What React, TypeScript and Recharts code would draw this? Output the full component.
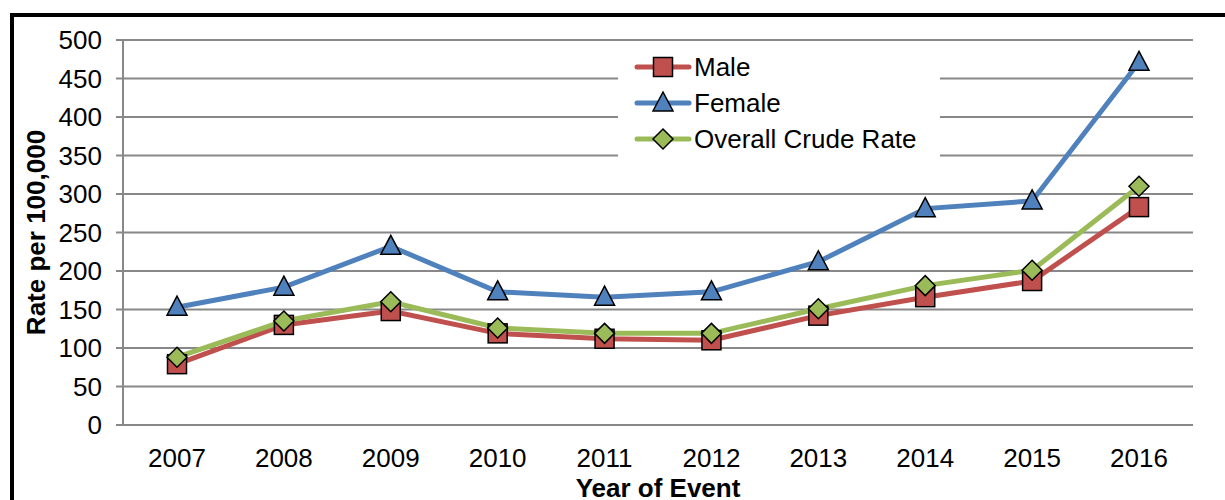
import React from 'react'
import { LineChart, Line, XAxis, YAxis, CartesianGrid } from 'recharts'

const years = ['2007', '2008', '2009', '2010', '2011', '2012', '2013', '2014', '2015', '2016']
const male = [79, 130, 148, 119, 112, 110, 142, 166, 187, 283]
const female = [153, 179, 232, 173, 166, 173, 212, 281, 291, 471]
const overall = [88, 135, 160, 126, 119, 119, 151, 181, 201, 310]
const yTicks = [0, 50, 100, 150, 200, 250, 300, 350, 400, 450, 500]

const data = years.map((year, i) => ({
    year,
    male: male[i],
    female: female[i],
    overall: overall[i],
}))

const font = '"Liberation Sans", Arial, sans-serif'

const Square = (p: any) => {
    if (p.cx == null || p.cy == null) return null
    return <rect x={p.cx - 9.5} y={p.cy - 9.5} width={19} height={19} fill="#C0504D" stroke="#000" strokeWidth={1.5} />
}
const Triangle = (p: any) => {
    if (p.cx == null || p.cy == null) return null
    const { cx, cy } = p
    return <polygon points={`${cx},${cy - 11} ${cx + 10},${cy + 8} ${cx - 10},${cy + 8}`} fill="#4F81BD" stroke="#000" strokeWidth={1.5} />
}
const Diamond = (p: any) => {
    if (p.cx == null || p.cy == null) return null
    const { cx, cy } = p
    return <polygon points={`${cx},${cy - 10} ${cx + 10},${cy} ${cx},${cy + 10} ${cx - 10},${cy}`} fill="#9BBB59" stroke="#000" strokeWidth={1.5} />
}

const legendItems = [
    { name: 'Male', color: '#C0504D', Marker: Square },
    { name: 'Female', color: '#4F81BD', Marker: Triangle },
    { name: 'Overall Crude Rate', color: '#9BBB59', Marker: Diamond },
]

const YTitle = (props: any) => {
    const vb = props.viewBox
    const cy = vb.y + vb.height / 2
    return (
        <text x={36} y={cy} transform={`rotate(-90, 36, ${cy})`} textAnchor="middle" dominantBaseline="central" fill="#000" fontSize={26} fontWeight="bold" fontFamily={font}>
            Rate per 100,000
        </text>
    )
}

const XTitle = (props: any) => {
    const vb = props.viewBox
    return (
        <text x={vb.x + vb.width / 2} y={vb.y + 63} textAnchor="middle" dominantBaseline="central" fill="#000" fontSize={26} fontWeight="bold" fontFamily={font}>
            Year of Event
        </text>
    )
}

const App = () => {
    return (
        <div style={{ position: 'absolute', left: 0, top: 0, width: 1225, height: 500, background: '#fff', overflow: 'hidden', fontFamily: font }}>
            <div style={{ position: 'absolute', left: 10, top: 13, width: 1240, height: 520, border: '4px solid #000', boxSizing: 'border-box' }} />
            <div style={{ position: 'absolute', left: 0, top: 0 }}>
                <LineChart width={1225} height={500} data={data} margin={{ top: 40, right: 32, left: 0, bottom: 0 }}>
                    <CartesianGrid vertical={false} stroke="#888" strokeWidth={2} />
                    <XAxis
                        dataKey="year"
                        height={75}
                        padding={{ left: 54, right: 54 }}
                        axisLine={{ stroke: '#888', strokeWidth: 2 }}
                        tickLine={false}
                        tickMargin={18}
                        tick={{ fill: '#000', fontSize: 26, fontFamily: font }}
                        label={<XTitle />}
                    />
                    <YAxis
                        domain={[0, 500]}
                        ticks={yTicks}
                        width={123}
                        interval={0}
                        axisLine={{ stroke: '#888', strokeWidth: 2 }}
                        tickLine={{ stroke: '#888', strokeWidth: 2 }}
                        tickSize={7}
                        tickMargin={14}
                        tick={{ fill: '#000', fontSize: 26, fontFamily: font }}
                        label={<YTitle />}
                    />
                    <Line dataKey="male" stroke="#C0504D" strokeWidth={5} dot={(p: any) => <Square key={`m${p.index}`} {...p} />} isAnimationActive={false} />
                    <Line dataKey="female" stroke="#4F81BD" strokeWidth={5} dot={(p: any) => <Triangle key={`f${p.index}`} {...p} />} isAnimationActive={false} />
                    <Line dataKey="overall" stroke="#9BBB59" strokeWidth={5} dot={(p: any) => <Diamond key={`o${p.index}`} {...p} />} isAnimationActive={false} />
                </LineChart>
            </div>
            <div style={{ position: 'absolute', left: 618, top: 44, width: 322, height: 116, background: '#fff' }}>
                {legendItems.map((item, i) => (
                    <div key={item.name} style={{ position: 'absolute', left: 16, top: 9 + i * 36, height: 28, display: 'flex', alignItems: 'center' }}>
                        <svg width={58} height={28}>
                            <line x1={3} y1={14} x2={55} y2={14} stroke={item.color} strokeWidth={5} strokeLinecap="round" />
                            <item.Marker cx={29} cy={14} />
                        </svg>
                        <span style={{ fontSize: 26, marginLeft: 2, color: '#000', whiteSpace: 'nowrap' }}>{item.name}</span>
                    </div>
                ))}
            </div>
        </div>
    )
}

export default App
